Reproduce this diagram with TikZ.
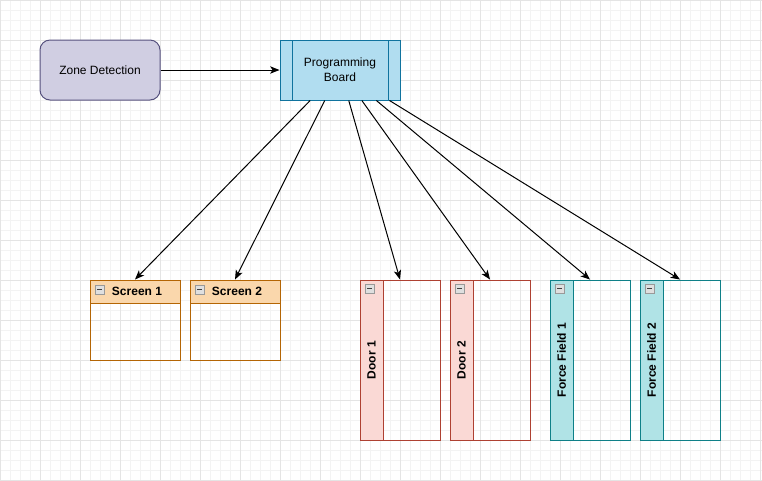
\documentclass[tikz,border=0pt]{standalone}
\usepackage{fontspec}
\setmainfont{Liberation Sans}
\usetikzlibrary{arrows.meta}
\definecolor{zonefill}{HTML}{D0CEE2}
\definecolor{zonedraw}{HTML}{56517E}
\definecolor{pbfill}{HTML}{B1DDF0}
\definecolor{pbdraw}{HTML}{10739E}
\definecolor{scfill}{HTML}{FAD7AC}
\definecolor{scdraw}{HTML}{B46504}
\definecolor{drfill}{HTML}{FAD9D5}
\definecolor{drdraw}{HTML}{AE4132}
\definecolor{fffill}{HTML}{B0E3E6}
\definecolor{ffdraw}{HTML}{0E8088}
\definecolor{minorg}{HTML}{F3F3F3}
\definecolor{majorg}{HTML}{E4E4E4}
\tikzset{
  base/.style={inner sep=0pt, line width=0.75pt, font=\fontsize{9}{11}\selectfont},
  zonebox/.style={base, draw=zonedraw, fill=zonefill, rounded corners=7.5pt, minimum width=90pt, minimum height=45pt},
  pbbox/.style={base, draw=pbdraw, fill=pbfill, minimum width=90pt, minimum height=45pt, align=center},
  scbox/.style={base, draw=scdraw, minimum width=67.5pt, minimum height=60pt},
  drbox/.style={base, draw=drdraw, minimum width=60pt, minimum height=120pt},
  ffbox/.style={base, draw=ffdraw, minimum width=60pt, minimum height=120pt},
  hdrtext/.style={base, font=\fontsize{9}{11}\selectfont\bfseries},
  vtext/.style={hdrtext, rotate=90},
  arr/.style={line width=0.75pt, -{Stealth[length=7pt,width=5.5pt,inset=1.8pt]}},
  minusicon/.style={draw=gray!80, fill=gray!25, line width=0.5pt},
}
\newcommand{\minusbox}[2]{%
  \draw[minusicon] (#1,#2) rectangle ++(9,9);
  \draw[line width=0.6pt, black!75] (#1+2,#2+4.5) -- (#1+7,#2+4.5);}
\begin{document}
\begin{tikzpicture}[x=0.75pt,y=-0.75pt]
\useasboundingbox (0,0) rectangle (762,480);
\fill[white] (0,0) rectangle (762,480);
\foreach \x in {0,10,...,760} \draw[minorg, line width=0.5pt] (\x,0) -- (\x,480);
\foreach \y in {0,10,...,480} \draw[minorg, line width=0.5pt] (0,\y) -- (762,\y);
\foreach \x in {0,40,...,760} \draw[majorg, line width=0.6pt] (\x,0) -- (\x,480);
\foreach \y in {0,40,...,480} \draw[majorg, line width=0.6pt] (0,\y) -- (762,\y);

% Zone Detection
\node[zonebox] (zd) at (100,70) {Zone Detection};

% Programming Board
\node[pbbox] (pb) at (340,70) {Programming\\Board};
\draw[pbdraw, line width=0.75pt] (292,40) -- (292,100);
\draw[pbdraw, line width=0.75pt] (388,40) -- (388,100);

% Screens
\node[scbox] (sc1) at (135,320) {};
\fill[scfill] (90,280) rectangle (180,303);
\draw[scdraw, line width=0.75pt] (90,303) -- (180,303);
\draw[scdraw, line width=0.75pt] (90,280) rectangle (180,360);
\node[hdrtext] (sc1t) at (137,291.5) {Screen 1};
\minusbox{95}{285}

\node[scbox] (sc2) at (235,320) {};
\fill[scfill] (190,280) rectangle (280,303);
\draw[scdraw, line width=0.75pt] (190,303) -- (280,303);
\draw[scdraw, line width=0.75pt] (190,280) rectangle (280,360);
\node[hdrtext] (sc2t) at (237,291.5) {Screen 2};
\minusbox{195}{285}

% Doors
\node[drbox] (d1) at (400,360) {};
\fill[drfill] (360,280) rectangle (383,440);
\draw[drdraw, line width=0.75pt] (383,280) -- (383,440);
\draw[drdraw, line width=0.75pt] (360,280) rectangle (440,440);
\node[vtext] (d1t) at (371.5,360) {Door 1};
\minusbox{365}{284}

\node[drbox] (d2) at (490,360) {};
\fill[drfill] (450,280) rectangle (473,440);
\draw[drdraw, line width=0.75pt] (473,280) -- (473,440);
\draw[drdraw, line width=0.75pt] (450,280) rectangle (530,440);
\node[vtext] (d2t) at (461.5,360) {Door 2};
\minusbox{455}{284}

% Force fields
\node[ffbox] (f1) at (590,360) {};
\fill[fffill] (550,280) rectangle (573,440);
\draw[ffdraw, line width=0.75pt] (573,280) -- (573,440);
\draw[ffdraw, line width=0.75pt] (550,280) rectangle (630,440);
\node[vtext] (f1t) at (561.5,360) {Force Field 1};
\minusbox{555}{284}

\node[ffbox] (f2) at (680,360) {};
\fill[fffill] (640,280) rectangle (663,440);
\draw[ffdraw, line width=0.75pt] (663,280) -- (663,440);
\draw[ffdraw, line width=0.75pt] (640,280) rectangle (720,440);
\node[vtext] (f2t) at (651.5,360) {Force Field 2};
\minusbox{645}{284}

% Connectors
\draw[arr] (zd) -- (pb);
\draw[arr] (pb) -- (sc1.north);
\draw[arr] (pb) -- (sc2.north);
\draw[arr] (pb) -- (d1.north);
\draw[arr] (pb) -- (d2.north);
\draw[arr] (pb) -- (f1.north);
\draw[arr] (pb) -- (f2.north);
\end{tikzpicture}
\end{document}
